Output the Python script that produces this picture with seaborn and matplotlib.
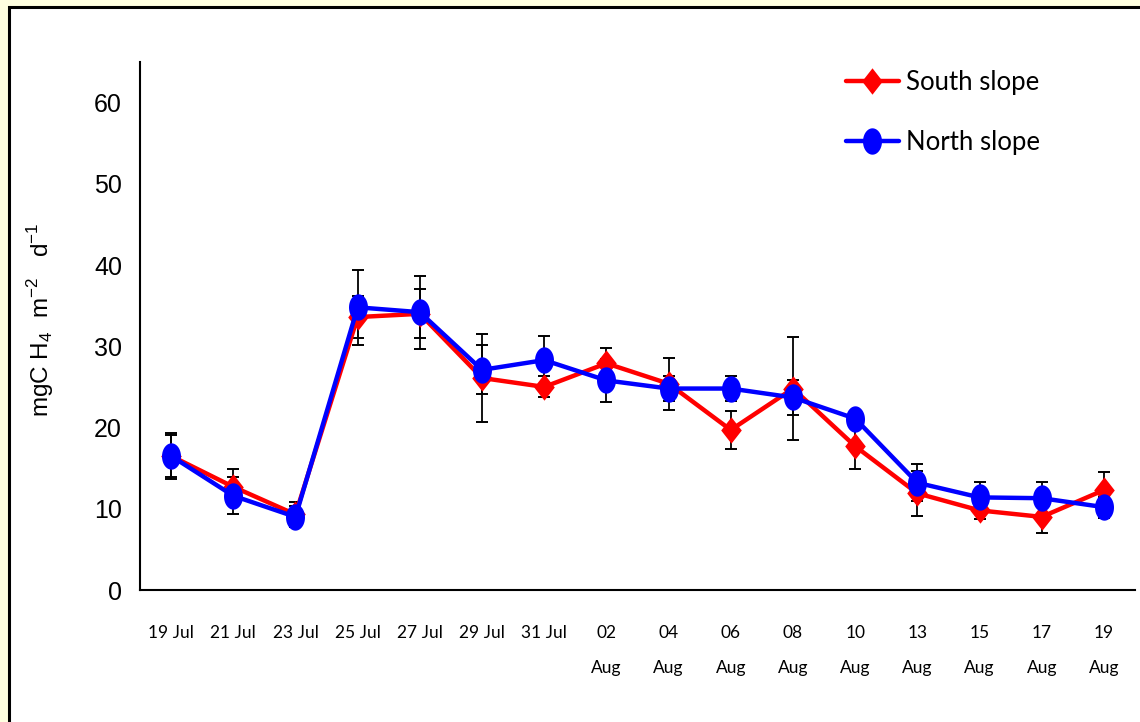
import numpy as np
import pandas as pd
import matplotlib
matplotlib.use('Agg')
import matplotlib.pyplot as plt
from matplotlib.path import Path
from matplotlib.patches import Rectangle
import seaborn as sns

# Values (mg CH4 m-2 d-1, mean +/- error)
dates = ['19 Jul', '21 Jul', '23 Jul', '25 Jul', '27 Jul', '29 Jul', '31 Jul',
         '02\nAug', '04\nAug', '06\nAug', '08\nAug', '10\nAug', '13\nAug',
         '15\nAug', '17\nAug', '19\nAug']
south = [16.5, 12.7, 9.3, 33.6, 34.0, 26.1, 25.0, 27.9, 25.4, 19.7, 24.8, 17.7, 11.9, 9.8, 9.0, 12.3]
south_err = [2.6, 2.2, 1.5, 2.6, 3.0, 5.4, 1.3, 1.9, 3.2, 2.3, 6.3, 2.8, 2.8, 1.0, 2.0, 2.2]
north = [16.5, 11.6, 9.0, 34.8, 34.2, 27.1, 28.3, 25.8, 24.8, 24.8, 23.7, 21.1, 13.2, 11.4, 11.3, 10.2]
north_err = [2.8, 2.3, 1.3, 4.6, 4.5, 3.0, 3.0, 2.6, 1.5, 1.5, 2.2, 0.8, 2.3, 1.9, 2.0, 1.3]
series = ['South slope', 'North slope']

sns.set_style('white')
plt.rcParams['font.family'] = ['Liberation Sans', 'DejaVu Sans']
plt.rcParams['mathtext.fontset'] = 'custom'
plt.rcParams['mathtext.rm'] = 'Liberation Sans'
for key in ['text.color', 'axes.labelcolor', 'xtick.color', 'ytick.color', 'axes.edgecolor']:
    plt.rcParams[key] = 'black'

n = len(dates)
df = pd.DataFrame({
    'pos': list(range(n)) * 2,
    'flux': south + north,
    'err': south_err + north_err,
    'site': [series[0]] * n + [series[1]] * n,
})

# tall diamond and tall ellipse markers like the original
diamond = Path([(0, 1), (0.78, 0), (0, -1), (-0.78, 0), (0, 1)], closed=True)
theta = np.linspace(0, 2 * np.pi, 61)
ellipse = Path(np.column_stack([0.72 * np.cos(theta), np.sin(theta)]), closed=True)

fig = plt.figure(figsize=(11.4, 7.22), dpi=100, facecolor='#FFFFE0')
fig.add_artist(Rectangle((9 / 1140, -0.1), 1.2, 1 - 6.5 / 722 + 0.1,
                         transform=fig.transFigure, facecolor='white',
                         edgecolor='black', linewidth=2.2, zorder=-1))
ax = fig.add_axes([140 / 1140, 1 - 590 / 722, 995 / 1140, 528 / 722])

# error bars below the lines
for name in series:
    sub = df[df['site'] == name]
    ax.errorbar(sub['pos'], sub['flux'], yerr=sub['err'], fmt='none',
                ecolor='black', elinewidth=1.3, capsize=4.5, capthick=1.4, zorder=1.5)

sns.lineplot(data=df, x='pos', y='flux', hue='site', style='site',
             hue_order=series, style_order=series,
             palette={'South slope': '#FF0000', 'North slope': '#0000FF'},
             markers={'South slope': diamond, 'North slope': ellipse},
             dashes=False, errorbar=None, linewidth=3.2, markersize=19,
             markeredgewidth=0, ax=ax)

ax.set_xlim(-0.5, n - 0.5)
ax.set_ylim(0, 65)
ax.set_yticks(range(0, 61, 10))
ax.tick_params(axis='y', labelsize=18, length=6, width=1.5, direction='out', pad=7)

ax.set_xticks(np.arange(-0.5, n, 1))
ax.set_xticklabels([])
ax.set_xticks(range(n), minor=True)
ax.set_xticklabels(dates, minor=True, fontsize=12.5, linespacing=2.5, family='Lato')
ax.tick_params(axis='x', which='major', length=5, width=1.5, direction='out')
ax.tick_params(axis='x', which='minor', length=0, pad=25)

for side in ['top', 'right']:
    ax.spines[side].set_visible(False)
for side in ['left', 'bottom']:
    ax.spines[side].set_linewidth(1.5)

ax.set_xlabel('')
ax.set_ylabel(r'mgC H$_4$  m$^{-2}$   d$^{-1}$', fontsize=17.5, family='Liberation Sans')
ax.yaxis.set_label_coords(-0.084, 0.511)

handles, labels = ax.get_legend_handles_labels()
leg = ax.legend(handles=handles, labels=labels, loc='upper left',
                bbox_to_anchor=(846 / 1140, 1 - 70 / 722), bbox_transform=fig.transFigure,
                frameon=False, prop={'family': 'Lato', 'size': 18.5},
                handlelength=2.05, handletextpad=0.3,
                labelspacing=1.35, borderpad=0, borderaxespad=0)

fig.savefig('out.png', dpi=100)
